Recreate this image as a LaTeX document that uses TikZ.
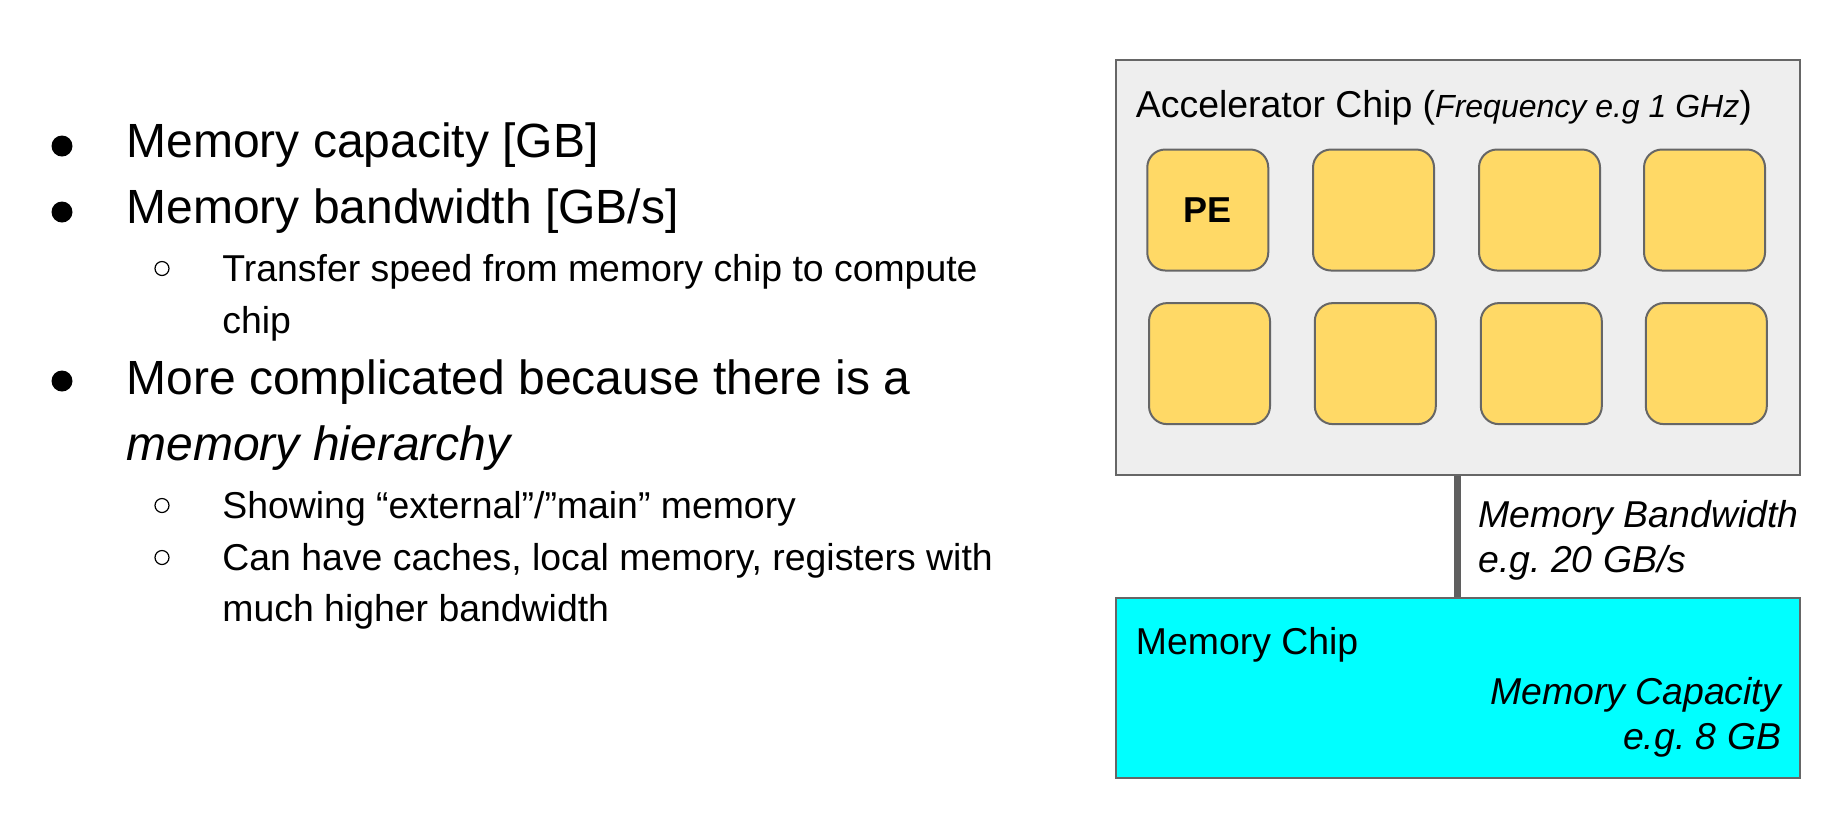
\documentclass[tikz,border=0pt]{standalone}
\usepackage{fontspec}
\setmainfont{Liberation Sans}
\frenchspacing
\definecolor{edge}{HTML}{666666}
\definecolor{chipgray}{HTML}{EEEEEE}
\definecolor{peyellow}{HTML}{FFD966}
\definecolor{memcyan}{HTML}{00FFFF}
\definecolor{linkc}{HTML}{5F5F5F}
\begin{document}
\begin{tikzpicture}[x=0.5pt,y=-0.5pt,
  txt/.style={inner sep=0pt, anchor=base west},
  big/.style={txt, font=\fontsize{24}{28}\selectfont},
  small/.style={txt, font=\fontsize{18.7}{22}\selectfont},
  dot/.style={circle, fill=black, inner sep=0pt, minimum size=10.5pt},
  ring/.style={circle, draw=black, line width=0.6pt, inner sep=0pt, minimum size=7pt},
  pebox/.style={draw=edge, line width=1pt, fill=peyellow, rounded corners=9pt,
     minimum width=60.5pt, minimum height=60.5pt, inner sep=0pt},
  chipbox/.style={draw=edge, line width=1pt, inner sep=0pt, minimum width=342.4pt},
]
\useasboundingbox (0,0) rectangle (1845,821);
\fill[white] (0,0) rectangle (1845,821);

% left text
\node[dot] (b1) at (62,146) {};
\node[big] (t1) at (126,157.5) {Memory capacity [GB]};
\node[dot] (b2) at (62,212) {};
\node[big] (t2) at (126,223.5) {Memory bandwidth [GB/s]};
\node[ring] (s1) at (162,268.5) {};
\node[small] (u1) at (222,281) {Transfer speed from memory chip to compute};
\node[small] (u1b) at (222,333) {chip};
\node[dot] (b3) at (62,381) {};
\node[big] (t3) at (126,394.5) {More complicated because there is a};
\node[big] (t3b) at (126,460.5) {\itshape memory hierarchy};
\node[ring] (s2) at (162,505.5) {};
\node[small] (u2) at (222,518) {Showing “external”/”main” memory};
\node[ring] (s3) at (162,557.5) {};
\node[small] (u3) at (222,570) {Can have caches, local memory, registers with};
\node[small] (u3b) at (222,621) {much higher bandwidth};

% diagram
\node[chipbox, fill=chipgray, minimum height=207.7pt] (acc) at (1457.9,267.7) {};
\node[chipbox, fill=memcyan, minimum height=90pt] (mem) at (1457.9,687.8) {};
\draw[line width=3.5pt, linkc] (acc.south) -- (mem.north);

\node[small] (acct) at (1135.5,117.5) {Accelerator Chip ({\fontsize{16}{19}\selectfont\itshape Frequency e.g 1 GHz})};

\node[pebox, font=\fontsize{18}{20}\selectfont\bfseries] (p11) at (1207.75,210) {PE};
\node[pebox] (p12) at (1373.5,210) {};
\node[pebox] (p13) at (1539.5,210) {};
\node[pebox] (p14) at (1704.5,210) {};
\node[pebox] (p21) at (1209.5,363.6) {};
\node[pebox] (p22) at (1375.3,363.6) {};
\node[pebox] (p23) at (1541.3,363.6) {};
\node[pebox] (p24) at (1706.3,363.6) {};

\node[small, font=\fontsize{18.7}{22}\selectfont\itshape] (bw1) at (1478,527) {Memory Bandwidth};
\node[small, font=\fontsize{18.7}{22}\selectfont\itshape] (bw2) at (1478,572) {e.g. 20 GB/s};

\node[small] (memt) at (1135.5,654) {Memory Chip};
\node[small, anchor=base east, font=\fontsize{18.7}{22}\selectfont\itshape] (cap1) at (1781.5,704) {Memory Capacity};
\node[small, anchor=base east, font=\fontsize{18.7}{22}\selectfont\itshape] (cap2) at (1781.5,749) {e.g. 8 GB};
\end{tikzpicture}
\end{document}
